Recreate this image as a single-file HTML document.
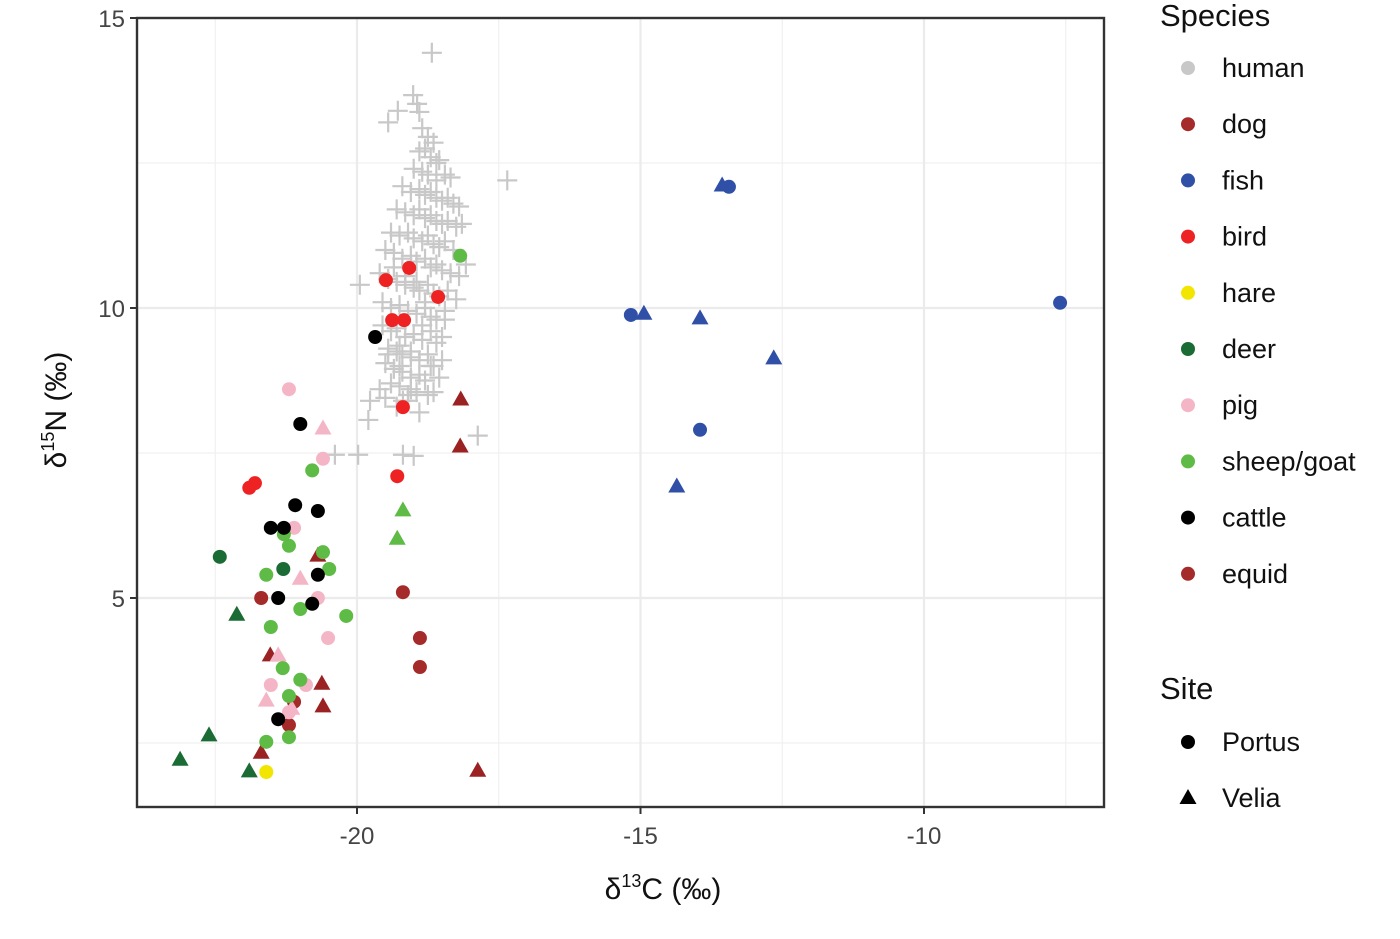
<!DOCTYPE html>
<html><head><meta charset="utf-8"><style>
body{margin:0;background:#fff;font-family:"Liberation Sans",Arial,sans-serif}
svg text{font-family:"Liberation Sans",Arial,sans-serif}
</style></head><body>
<svg id="c" width="1400" height="934" viewBox="0 0 1400 934"></svg>
<script>
// data
const humanX=[-18.68,-18.94,-19.01,-19.28,-18.9,-19.45,-18.85,-18.75,-18.65,-18.9,-18.8,-18.7,-18.6,-18.55,-19.0,-18.85,-18.75,-18.6,-18.45,-18.35,-17.35,-19.2,-19.05,-18.9,-18.8,-18.7,-18.6,-18.5,-18.4,-18.3,-18.2,-19.3,-19.15,-19.0,-18.9,-18.8,-18.7,-18.6,-18.5,-18.4,-18.25,-18.15,-19.4,-19.25,-19.1,-19.0,-18.85,-18.75,-18.65,-18.55,-18.45,-18.3,-19.5,-19.35,-19.2,-19.05,-18.95,-18.8,-18.7,-18.6,-18.5,-18.35,-18.2,-18.08,-19.6,-19.45,-19.3,-19.15,-19.0,-18.9,-18.75,-18.65,-18.55,-18.4,-18.25,-19.95,-19.55,-19.4,-19.25,-19.1,-18.95,-18.8,-18.7,-18.6,-18.45,-19.55,-19.4,-19.3,-19.15,-19.0,-18.85,-18.7,-18.6,-18.5,-19.45,-19.3,-19.2,-19.05,-18.9,-18.75,-18.65,-18.5,-19.5,-19.35,-19.2,-19.05,-18.9,-18.7,-18.55,-19.6,-19.4,-19.25,-19.1,-18.95,-18.8,-18.65,-19.5,-19.3,-19.1,-18.9,-18.75,-19.77,-19.8,-19.19,-19.05,-20.39,-19.98,-19.19,-17.87,-19.0,-19.35,-19.15,-18.95,-18.8,-19.25,-19.05,-18.85,-19.45,-19.25,-18.45];
const humanY=[14.4,13.52,13.67,13.4,13.38,13.2,13.1,12.95,12.85,12.7,12.75,12.6,12.5,12.55,12.4,12.35,12.3,12.2,12.3,12.25,12.2,12.1,12.0,12.05,11.95,12.0,11.9,11.85,11.9,11.8,11.75,11.7,11.65,11.6,11.7,11.55,11.6,11.5,11.45,11.5,11.4,11.45,11.3,11.25,11.3,11.2,11.15,11.25,11.1,11.05,11.15,11.0,11.0,10.95,10.85,10.9,10.8,10.85,10.7,10.75,10.65,10.6,10.55,10.75,10.6,10.5,10.45,10.4,10.35,10.3,10.4,10.25,10.2,10.3,10.15,10.4,10.1,10.0,10.05,9.95,9.9,10.0,9.85,9.8,9.95,9.7,9.6,9.65,9.5,9.55,9.45,9.6,9.4,9.5,9.3,9.25,9.2,9.15,9.1,9.2,9.0,9.1,9.05,8.95,8.9,8.8,8.85,9.0,8.8,8.6,8.7,8.65,8.5,8.55,8.75,8.55,8.45,8.3,8.4,8.2,8.5,8.4,8.07,8.4,8.6,7.47,7.47,7.47,7.8,7.45,10.7,10.55,10.45,10.1,9.35,9.25,9.7,9.2,9.0,9.8];
const pts=[
// species, site(0 Portus,1 Velia), x, y
['dog',0,-21.69,5.0],['dog',0,-19.19,5.1],['dog',0,-18.89,4.31],['dog',0,-18.89,3.81],['dog',0,-21.11,3.21],['dog',0,-21.2,2.81],
['equid',1,-18.17,8.43],['equid',1,-18.18,7.62],['equid',1,-20.69,5.74],['equid',1,-21.53,4.02],['equid',1,-20.62,3.53],['equid',1,-20.6,3.14],['equid',1,-21.69,2.34],['equid',1,-17.87,2.03],
['fish',0,-13.44,12.09],['fish',0,-15.17,9.88],['fish',0,-13.95,7.9],['fish',0,-7.6,10.09],
['fish',1,-13.56,12.12],['fish',1,-14.94,9.91],['fish',1,-13.95,9.83],['fish',1,-12.65,9.14],['fish',1,-14.36,6.93],
['bird',0,-19.49,10.48],['bird',0,-19.08,10.69],['bird',0,-18.57,10.19],['bird',0,-19.38,9.79],['bird',0,-19.17,9.79],['bird',0,-19.19,8.29],['bird',0,-19.29,7.1],['bird',0,-21.9,6.9],['bird',0,-21.8,6.98],
['hare',0,-21.6,2.0],
['deer',0,-22.42,5.71],['deer',0,-21.3,5.5],['deer',1,-22.12,4.72],['deer',1,-23.12,2.22],['deer',1,-22.61,2.64],['deer',1,-21.9,2.02],
['pig',0,-21.2,8.6],['pig',0,-20.6,7.4],['pig',0,-21.11,6.21],['pig',0,-20.69,5.0],['pig',0,-20.51,4.31],['pig',0,-21.52,3.5],['pig',0,-20.9,3.5],['pig',0,-21.2,3.03],
['pig',1,-20.6,7.93],['pig',1,-21.0,5.34],['pig',1,-21.39,4.02],['pig',1,-21.6,3.24],['pig',1,-21.15,3.1],
['sheep',0,-18.18,10.9],['sheep',0,-20.79,7.2],['sheep',0,-21.2,5.9],['sheep',0,-21.29,6.1],['sheep',0,-20.6,5.79],['sheep',0,-20.49,5.5],['sheep',0,-21.6,5.4],['sheep',0,-20.19,4.69],['sheep',0,-21.0,4.81],['sheep',0,-21.52,4.5],['sheep',0,-21.31,3.79],['sheep',0,-21.0,3.59],['sheep',0,-21.2,3.31],['sheep',0,-21.6,2.52],['sheep',0,-21.2,2.6],
['sheep',1,-19.19,6.52],['sheep',1,-19.29,6.03],
['cattle',0,-19.68,9.5],['cattle',0,-21.0,8.0],['cattle',0,-21.09,6.6],['cattle',0,-20.69,6.5],['cattle',0,-21.52,6.21],['cattle',0,-21.29,6.21],['cattle',0,-20.69,5.4],['cattle',0,-21.39,5.0],['cattle',0,-20.79,4.9],['cattle',0,-21.39,2.91]
];
const xTicks=[-20,-15,-10];
const yTicks=[5,10,15];
const legendSpecies=['human','dog','fish','bird','hare','deer','pig','sheep/goat','cattle','equid'];
const legendColors=['#c8c8c8','#a52a2a','#3050a8','#ee2222','#f2e600','#1b6b35','#f4b6c6','#5dbb46','#000000','#a52a2a'];
const colors={dog:'#a52a2a',equid:'#9b2222',fish:'#3050a8',bird:'#ee2222',hare:'#f2e600',deer:'#1b6b35',pig:'#f4b6c6',sheep:'#5dbb46',cattle:'#000000'};

const svg=document.getElementById('c');
const NS='http://www.w3.org/2000/svg';
const L=137,R=1104,T=18,B=807;
const X=v=>357+(v+20)*56.7;
const Y=v=>308-(v-10)*58;
function el(tag,attrs,parent){const e=document.createElementNS(NS,tag);for(const k in attrs)e.setAttribute(k,attrs[k]);(parent||svg).appendChild(e);return e;}

const grid=el('g',{});


[-22.5,-17.5,-12.5,-7.5].forEach(v=>el('line',{x1:X(v),x2:X(v),y1:T,y2:B,stroke:'#f0f0f0','stroke-width':1.2},grid));
[2.5,7.5,12.5].forEach(v=>el('line',{x1:L,x2:R,y1:Y(v),y2:Y(v),stroke:'#f0f0f0','stroke-width':1.2},grid));
xTicks.forEach(v=>el('line',{x1:X(v),x2:X(v),y1:T,y2:B,stroke:'#ebebeb','stroke-width':2.2},grid));
yTicks.forEach(v=>el('line',{x1:L,x2:R,y1:Y(v),y2:Y(v),stroke:'#ebebeb','stroke-width':2.2},grid));

const hg=el('g',{});


humanX.forEach((x,i)=>{const cx=X(x),cy=Y(humanY[i]);
  el('path',{d:`M${cx-10} ${cy}H${cx+10}M${cx} ${cy-10}V${cy+10}`,stroke:'#c8c8c8','stroke-width':2.2,fill:'none'},hg);});

const pg=el('g',{});


pts.forEach(p=>{const cx=X(p[2]),cy=Y(p[3]);let e;
  if(p[1]===0)e=el('circle',{cx,cy,r:7,fill:colors[p[0]]},pg);
  else e=el('path',{d:`M${cx} ${cy-8.5}L${cx+8.5} ${cy+6.5}L${cx-8.5} ${cy+6.5}Z`,fill:colors[p[0]]},pg);
  
  
});

const fr=el('rect',{x:L,y:T,width:R-L,height:B-T,fill:'none',stroke:'#333','stroke-width':2.4});



xTicks.forEach(v=>{el('line',{x1:X(v),x2:X(v),y1:B,y2:B+7,stroke:'#333','stroke-width':2});
  const t=el('text',{x:X(v),y:B+37,'text-anchor':'middle','font-size':24,fill:'#444'});t.textContent=String(v);
  
  });
yTicks.forEach(v=>{el('line',{x1:L-7,x2:L,y1:Y(v),y2:Y(v),stroke:'#333','stroke-width':2});
  const t=el('text',{x:L-12,y:Y(v)+9,'text-anchor':'end','font-size':24,fill:'#444'});t.textContent=v;
  
  });

const xt=el('text',{x:663,y:899,'text-anchor':'middle','font-size':30,fill:'#111'});
xt.innerHTML='δ<tspan font-size="18" dy="-12">13</tspan><tspan dy="12">C (‰)</tspan>';


const yt=el('text',{x:0,y:0,'text-anchor':'middle','font-size':30,fill:'#111',transform:'translate(66,410) rotate(-90)'});
yt.innerHTML='δ<tspan font-size="18" dy="-12">15</tspan><tspan dy="12">N (‰)</tspan>';



const lg=el('g',{});


const st=el('text',{x:1160,y:26,'font-size':31,fill:'#111'},lg);st.textContent='Species';
legendSpecies.forEach((s,i)=>{const y=68+i*56.2;
  el('circle',{cx:1188,cy:y,r:7,fill:legendColors[i]},lg);
  const t=el('text',{x:1222,y:y+9,'font-size':27,fill:'#111'},lg);t.textContent=s;
  
  });
const st2=el('text',{x:1160,y:699,'font-size':31,fill:'#111'},lg);st2.textContent='Site';
el('circle',{cx:1188,cy:742,r:7,fill:'#000'},lg);
let t1=el('text',{x:1222,y:751,'font-size':27,fill:'#111'},lg);t1.textContent='Portus';
el('path',{d:'M1188 789L1196.5 804L1179.5 804Z',fill:'#000'},lg);
let t2=el('text',{x:1222,y:807,'font-size':27,fill:'#111'},lg);t2.textContent='Velia';
</script>
</body></html>
